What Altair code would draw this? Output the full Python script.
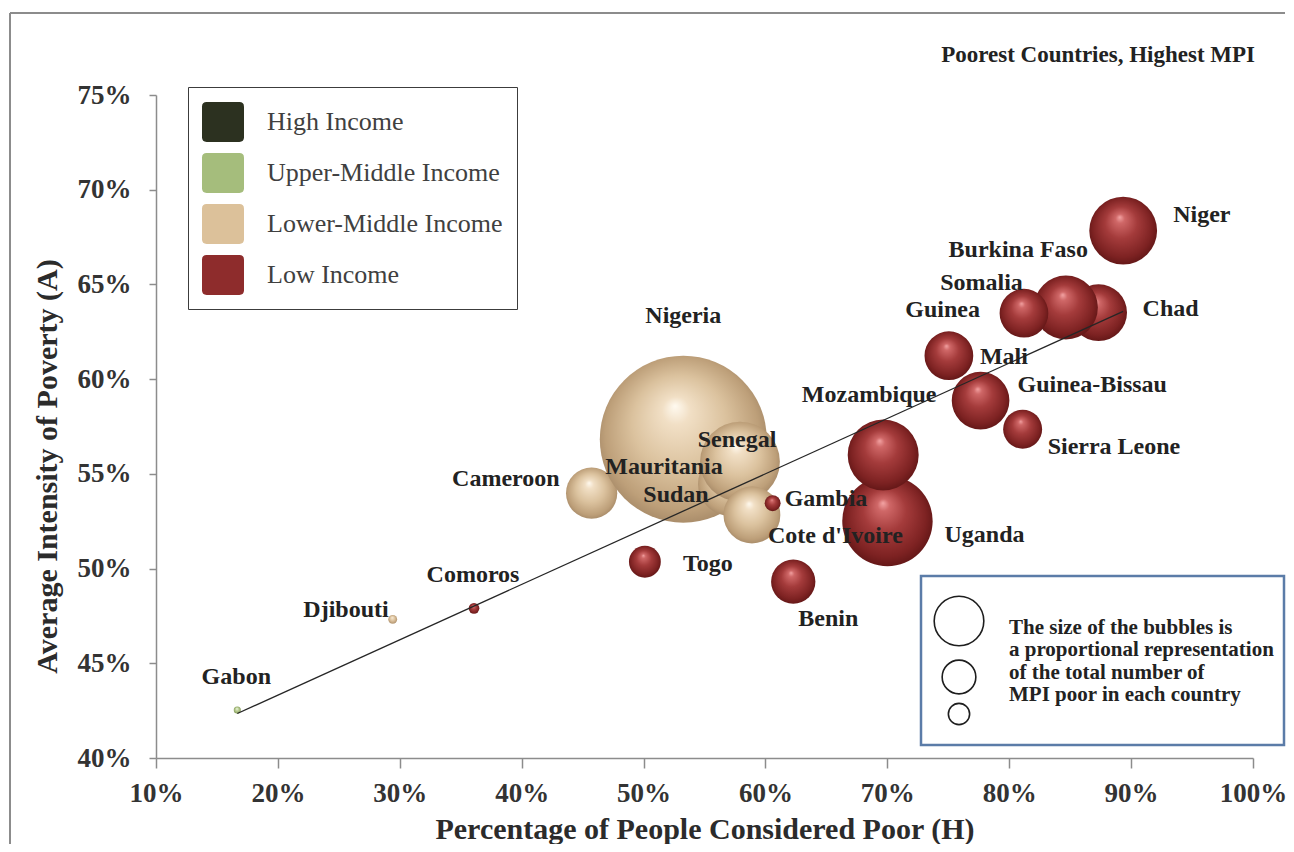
import altair as alt
import pandas as pd

# ---------------- data (draw order = list order) ----------------
countries = ["Mauritania", "Cameroon", "Nigeria", "Sudan", "Senegal", "Cote d'Ivoire", "Djibouti",
             "Gabon",
             "Somalia", "Niger", "Chad", "Burkina Faso", "Guinea", "Mali", "Guinea-Bissau",
             "Sierra Leone", "Uganda", "Mozambique", "Benin", "Togo", "Gambia", "Comoros"]
income = (["Lower-Middle Income"] * 7 + ["Upper-Middle Income"] + ["Low Income"] * 14)
pct_poor_H = [0.5463, 0.4574, 0.5326, 0.5709, 0.5791, 0.5889, 0.2942,
              0.1667,
              0.8432, 0.8935, 0.8733, 0.8465, 0.8121, 0.7505, 0.7765,
              0.8110, 0.7001, 0.6966, 0.6228, 0.5011, 0.6059, 0.3609]
intensity_A = [0.5536, 0.5398, 0.5683, 0.5447, 0.5564, 0.5283, 0.4732,
               0.4253,
               0.6392, 0.6784, 0.6351, 0.6378, 0.6348, 0.6124, 0.5887,
               0.5736, 0.5251, 0.5600, 0.4931, 0.5036, 0.5345, 0.4790]
mpi_poor_millions = [2.2, 8.3, 88.0, 12.9, 20.1, 10.2, 0.25,
                     0.16,
                     6.7, 14.5, 10.2, 12.9, 7.5, 7.5, 10.5,
                     4.8, 25.8, 15.9, 6.2, 3.2, 0.8, 0.36]

income_levels = ["High Income", "Upper-Middle Income", "Lower-Middle Income", "Low Income"]
legend_colors = ["#2c3120", "#a5bd7c", "#dcc19a", "#8e2c2c"]

df = pd.DataFrame({"country": countries, "income": income, "H": pct_poor_H,
                   "A": intensity_A, "poor": mpi_poor_millions})

# ---------------- styling ----------------
SERIF = "Liberation Serif"
W, HT = 1097, 663
PAD = {"left": 148, "top": 87, "right": 33, "bottom": 86}
PLOT_X, PLOT_Y = 156, 95   # page position of plot origin

xs = alt.Scale(domain=[0.1, 1.0], nice=False, zero=False)
ys = alt.Scale(domain=[0.4, 0.75], nice=False, zero=False)
ss = alt.Scale(domain=[0, 88.0], range=[0, 27877], zero=True)

x_axis = alt.Axis(values=[0.1, 0.2, 0.3, 0.4, 0.5, 0.6, 0.7, 0.8, 0.9, 1.0], format=".0%",
                  title="Percentage of People Considered Poor (H)", grid=False,
                  labelFont=SERIF, labelFontSize=27, labelFontWeight="bold", labelColor="#333333",
                  labelPadding=12, labelFlush=False, labelOverlap=False,
                  tickSize=10, tickColor="#8c8c8c", tickWidth=1.5,
                  domainColor="#8c8c8c", domainWidth=1.5,
                  titleFont=SERIF, titleFontSize=30, titleFontWeight="bold", titleColor="#2b2b2b",
                  titleY=71, titleBaseline="middle")
y_axis = alt.Axis(values=[0.40, 0.45, 0.50, 0.55, 0.60, 0.65, 0.70, 0.75], format=".0%",
                  title="Average Intensity of Poverty (A)", grid=False,
                  labelFont=SERIF, labelFontSize=27, labelFontWeight="bold", labelColor="#333333",
                  labelPadding=18, labelFlush=False, labelOverlap=False,
                  tickSize=7, tickColor="#8c8c8c", tickWidth=1.5,
                  domainColor="#8c8c8c", domainWidth=1.5,
                  titleFont=SERIF, titleFontSize=30, titleFontWeight="bold", titleColor="#2b2b2b",
                  titleX=-109, titleY=371, titleBaseline="middle")

x_enc = alt.X("H:Q", scale=xs, axis=x_axis)
y_enc = alt.Y("A:Q", scale=ys, axis=y_axis)
size_enc = alt.Size("poor:Q", scale=ss, legend=None)


def radial(stops):
    return {"gradient": "radial", "x1": 0.45, "y1": 0.3, "r1": 0.0,
            "x2": 0.5, "y2": 0.5, "r2": 0.56,
            "stops": [{"offset": o, "color": c} for o, c in stops]}


grad_low = radial([(0, "#f3a4a4"), (0.12, "#cf6767"), (0.42, "#a43b3b"), (0.78, "#7d2222"), (1, "#581212")])
grad_lower_mid = radial([(0, "#fffaf0"), (0.15, "#f1dfc5"), (0.5, "#dbc29e"), (0.82, "#bd9f79"), (1, "#9c8060")])
grad_upper_mid = radial([(0, "#f6ffec"), (0.3, "#cadaa9"), (0.7, "#9fb574"), (1, "#778f4f")])

one = pd.DataFrame({"k": [0]})

# chart frame: top and left edges only (right/bottom lie outside the picture)
frame_top = alt.Chart(one).mark_rule(color="#8c8c8c", strokeWidth=2).encode(
    x=alt.value(10 - PLOT_X), x2=alt.value(W + PAD["right"] - 1), y=alt.value(13 - PLOT_Y))
frame_left = alt.Chart(one).mark_rule(color="#8c8c8c", strokeWidth=2).encode(
    x=alt.value(10 - PLOT_X), y=alt.value(13 - PLOT_Y), y2=alt.value(HT + PAD["bottom"]))


def bubbles(level, grad):
    return alt.Chart(df).transform_filter(alt.datum.income == level).mark_circle(
        fill=grad, opacity=1, strokeWidth=0).encode(x=x_enc, y=y_enc, size=size_enc)


bub_tan = bubbles("Lower-Middle Income", grad_lower_mid)
bub_green = bubbles("Upper-Middle Income", grad_upper_mid)
bub_red = bubbles("Low Income", grad_low)

trend = alt.Chart(df).transform_regression("H", "A").mark_line(
    color="#262626", strokeWidth=1.3).encode(x=x_enc, y=y_enc)

label_offsets = {
    "Niger": (50, -16, "left"), "Burkina Faso": (22, -58, "right"),
    "Somalia": (-39, -22, "right"), "Guinea": (-44, -3, "right"),
    "Chad": (44, -4, "left"), "Mali": (31, 1, "left"),
    "Guinea-Bissau": (37, -16, "left"), "Sierra Leone": (25, 18, "left"),
    "Mozambique": (-14, -60, "center"), "Uganda": (57, 14, "left"),
    "Benin": (35, 37, "center"), "Gambia": (12, -4, "left"),
    "Cote d'Ivoire": (16, 21, "left"), "Togo": (38, 2, "left"),
    "Senegal": (-3, -22, "center"), "Mauritania": (-36, 0, "center"),
    "Sudan": (-54, 11, "center"), "Nigeria": (0, -123, "center"),
    "Cameroon": (-32, -14, "right"), "Comoros": (-1, -33, "center"),
    "Djibouti": (-4, -9, "right"), "Gabon": (-1, -33, "center"),
}
labels = []
for name in countries:
    dx, dy, al = label_offsets[name]
    labels.append(
        alt.Chart(df).transform_filter(alt.datum.country == name).mark_text(
            dx=dx, dy=dy, align=al, baseline="middle", font=SERIF, fontSize=24,
            fontWeight="bold", color="#222222").encode(x=x_enc, y=y_enc, text="country:N"))

title_t = alt.Chart(one).mark_text(
    align="right", baseline="middle", font=SERIF, fontSize=23, fontWeight="bold",
    color="#222222", text="Poorest Countries, Highest MPI").encode(
    x=alt.value(1255 - PLOT_X), y=alt.value(55 - PLOT_Y))

# size key box
key_box = alt.Chart(one).mark_rect(fill="white", stroke="#5b7ca8", strokeWidth=2.5).encode(
    x=alt.value(921 - PLOT_X), x2=alt.value(1284 - PLOT_X),
    y=alt.value(576 - PLOT_Y), y2=alt.value(745 - PLOT_Y))


def key_circle(cy, r):
    return alt.Chart(one).mark_point(shape="circle", filled=False, stroke="#1e1e1e",
                                     strokeWidth=1.6, size=3.14159 * r * r, opacity=1).encode(
        x=alt.value(959 - PLOT_X), y=alt.value(cy - PLOT_Y))


key_c1 = key_circle(621, 28)
key_c2 = key_circle(677, 19)
key_c3 = key_circle(714, 12)
key_text = alt.Chart(one).mark_text(
    align="left", baseline="top", font=SERIF, fontSize=21, fontWeight="bold",
    color="#222222", lineHeight=22.3,
    text=["The size of the bubbles is", "a proportional representation",
          "of  the total number of", "MPI poor in each country"]).encode(
    x=alt.value(1009 - PLOT_X), y=alt.value(617 - PLOT_Y))

# legend carrier (points clipped away, legend kept)
RPATH = ("M -0.78 -0.95 L 0.78 -0.95 Q 1 -0.95 1 -0.73 L 1 0.73 Q 1 0.95 0.78 0.95 "
         "L -0.78 0.95 Q -1 0.95 -1 0.73 L -1 -0.73 Q -1 -0.95 -0.78 -0.95 Z")
leg_df = pd.DataFrame({"income": income_levels, "H": [0.0] * 4, "A": [0.5] * 4})
legend_layer = alt.Chart(leg_df).mark_point(shape=RPATH, filled=True, opacity=1, clip=True).encode(
    x=x_enc, y=y_enc,
    color=alt.Color("income:N", scale=alt.Scale(domain=income_levels, range=legend_colors),
                    legend=alt.Legend(orient="none", legendX=32, legendY=-8, title=None,
                                      symbolType=RPATH, symbolSize=1764, symbolStrokeWidth=0,
                                      symbolOpacity=1,
                                      labelFont=SERIF, labelFontSize=26, labelColor="#404040",
                                      labelOffset=23, labelLimit=400, rowPadding=10, padding=14,
                                      strokeColor="#3c3c3c", fillColor="white")))

chart = alt.layer(
    frame_top, frame_left, bub_tan, bub_green, bub_red, trend, *labels, title_t,
    key_box, key_c1, key_c2, key_c3, key_text, legend_layer
).properties(
    width=W, height=HT,
    autosize=alt.AutoSizeParams(type="none"),
    padding=PAD,
    background="white",
).configure_view(strokeWidth=0)

chart.save("out.html", embed_options={"renderer": "svg", "actions": False})
